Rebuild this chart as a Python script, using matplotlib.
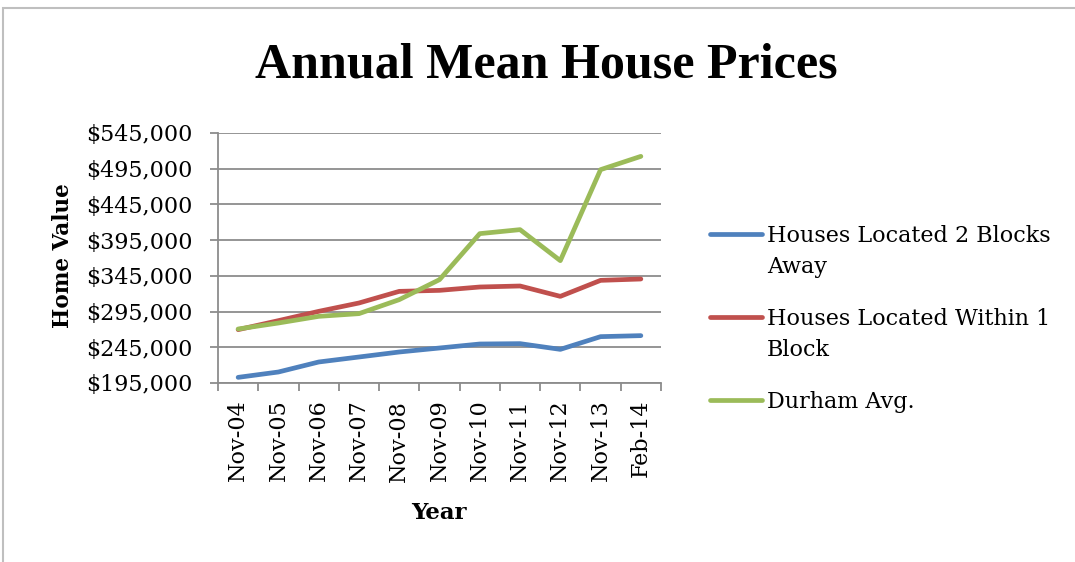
import numpy as np
import matplotlib
matplotlib.use('Agg')
import matplotlib.pyplot as plt
from matplotlib.lines import Line2D
from matplotlib.patches import Rectangle
from matplotlib.ticker import FuncFormatter

periods = ['Nov-04', 'Nov-05', 'Nov-06', 'Nov-07', 'Nov-08', 'Nov-09',
           'Nov-10', 'Nov-11', 'Nov-12', 'Nov-13', 'Feb-14']

two_blocks = [202900, 210400, 224400, 231400, 238400, 244000,
              249600, 250100, 242100, 259900, 261300]
within_one = [269700, 282300, 295300, 307000, 323300, 324700,
              329400, 330800, 316300, 338700, 340600]
durham = [270600, 279000, 288300, 292100, 311700, 339700,
          404100, 409700, 366300, 493700, 512300]

labels = ['Houses Located 2 Blocks\nAway', 'Houses Located Within 1\nBlock', 'Durham Avg.']
colors = ['#4F81BD', '#C0504D', '#9BBB59']

yticks = np.arange(195000, 545001, 50000)

serif = ['DejaVu Serif']
W, H = 1075, 562

fig = plt.figure(figsize=(10.75, 5.62), dpi=100)
ax = fig.add_axes([218 / W, 1 - 383 / H, (661 - 218) / W, (383 - 133) / H])

x = np.arange(len(periods))
for vals, c in zip([two_blocks, within_one, durham], colors):
    ax.plot(x, vals, color=c, lw=3.4, solid_capstyle='round', zorder=3)

grid_c = '#8C8C8C'
ax.set_xlim(-0.5, len(periods) - 0.5)
ax.set_ylim(195000, 545000)
ax.set_yticks(yticks)
ax.yaxis.set_major_formatter(FuncFormatter(lambda v, p: '${:,.0f}'.format(v)))
ax.set_xticks(np.arange(len(periods) + 1) - 0.5)
ax.set_xticklabels([])
ax.set_xticks(x, minor=True)
ax.set_xticklabels(periods, minor=True, rotation=90, fontfamily=serif, fontsize=16)
ax.tick_params(axis='x', which='major', length=6, width=1.3, color=grid_c, direction='out')
ax.tick_params(axis='x', which='minor', length=0, pad=12)
ax.tick_params(axis='y', length=6, width=1.3, color=grid_c, pad=12)
for t in ax.get_yticklabels():
    t.set_fontfamily(serif)
    t.set_fontsize(16)

ax.grid(axis='y', color=grid_c, lw=1.3)
ax.set_axisbelow(True)
for s in ['top', 'right']:
    ax.spines[s].set_visible(False)
for s in ['left', 'bottom']:
    ax.spines[s].set_color(grid_c)
    ax.spines[s].set_linewidth(1.3)

fig.text(546 / W, 1 - 66 / H, 'Annual Mean House Prices', ha='center', va='center',
         fontfamily=['Liberation Serif'], fontweight='bold', fontsize=36)
fig.text(63 / W, 1 - 256 / H, 'Home Value', ha='center', va='center', rotation=90,
         fontfamily=serif, fontweight='bold', fontsize=15.5)
fig.text(439 / W, 1 - 513 / H, 'Year', ha='center', va='center',
         fontfamily=serif, fontweight='bold', fontsize=16.5)

# legend drawn by hand so the handle sits on the first text line
leg_y = [234, 317, 400]
for yy, lab, c in zip(leg_y, labels, colors):
    fig.add_artist(Line2D([710 / W, 762 / W], [1 - yy / H] * 2, color=c, lw=3.4,
                          solid_capstyle='round', transform=fig.transFigure))
    fig.text(767 / W, 1 - (yy - 9) / H, lab, ha='left', va='top', linespacing=1.5,
             fontfamily=serif, fontsize=16)

# outer chart border
fig.add_artist(Rectangle((3 / W, -0.1), 1.2, 1.1 - 8 / H, fill=False,
                         edgecolor='#BFBFBF', lw=1.5, transform=fig.transFigure))

fig.savefig('out.png', dpi=100)
